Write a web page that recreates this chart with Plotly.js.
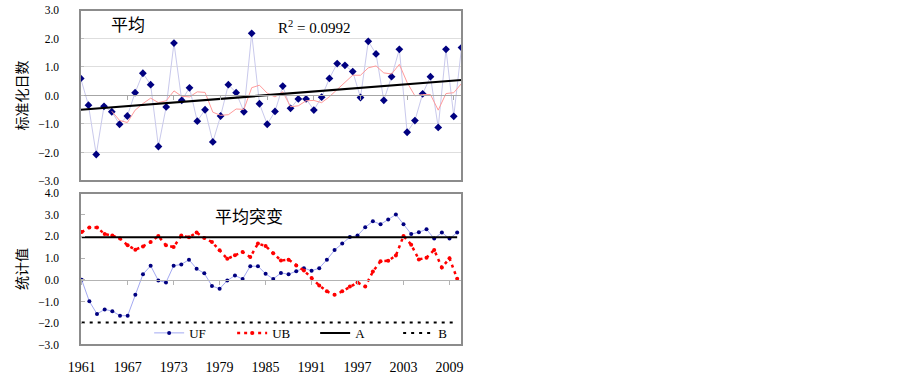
<!DOCTYPE html>
<html>
<head>
<meta charset="utf-8">
<script src="https://cdn.plot.ly/plotly-3.0.1.min.js"></script>
<style>html,body{margin:0;padding:0;background:#fff;}#chart{width:902px;height:378px;}</style>
</head>
<body>
<div id="chart"></div>
<script>
// ---- data ----
const years = [1961,1962,1963,1964,1965,1966,1967,1968,1969,1970,
  1971,1972,1973,1974,1975,1976,1977,1978,1979,1980,
  1981,1982,1983,1984,1985,1986,1987,1988,1989,1990,
  1991,1992,1993,1994,1995,1996,1997,1998,1999,2000,
  2001,2002,2003,2004,2005,2006,2007,2008,2009,2010];
const stdDays = [0.60,-0.34,-2.07,-0.38,-0.57,-1.01,-0.72,0.10,0.78,0.38,
  -1.79,-0.40,1.84,-0.17,0.27,-0.90,-0.50,-1.63,-0.72,0.38,
  0.10,-0.57,2.18,-0.29,-1.01,-0.56,0.33,-0.45,-0.12,-0.12,
  -0.51,-0.06,0.60,1.12,1.06,0.84,-0.07,1.90,1.46,-0.17,
  0.66,1.62,-1.29,-0.88,0.06,0.66,-1.12,1.62,-0.73,1.68];
const UF = [0.00,-0.99,-1.57,-1.36,-1.44,-1.65,-1.65,-0.68,0.26,0.65,
  -0.03,-0.12,0.65,0.71,0.93,0.51,0.30,-0.28,-0.41,-0.03,
  0.20,0.04,0.63,0.63,0.28,0.04,0.32,0.26,0.40,0.54,
  0.42,0.54,0.93,1.37,1.67,1.97,2.04,2.42,2.70,2.56,
  2.78,3.01,2.56,2.11,2.19,2.33,1.90,2.18,1.90,2.18];
const UB = [2.20,2.41,2.41,2.11,2.04,1.90,1.59,1.39,1.54,1.74,
  2.02,1.59,1.51,2.04,1.96,2.18,1.93,1.74,1.36,0.97,
  1.13,1.28,1.05,1.67,1.56,1.22,0.89,0.93,0.66,0.43,
  0.09,-0.26,-0.53,-0.69,-0.53,-0.31,-0.12,-0.31,0.38,0.86,
  0.88,1.12,2.02,1.62,0.94,1.02,1.38,0.57,0.99,0.05];
const critA = years.map(() => 1.96);
const critB = years.map(() => -1.96);
const tickYears = [1961,1967,1973,1979,1985,1991,1997,2003,2009];
const r2Text = 'R<sup>2</sup> = 0.0992';
const titleTop = '平均';
const titleBottom = '平均突变';

// ---- derived: 5-year moving average and linear trend ----
const movAvgX = [], movAvgY = [];
for (let i = 4; i < stdDays.length; i++) {
  let s = 0; for (let k = i - 4; k <= i; k++) s += stdDays[k];
  movAvgX.push(years[i]); movAvgY.push(s / 5);
}
const n = years.length;
const mx = years.reduce((a, b) => a + b, 0) / n;
const my = stdDays.reduce((a, b) => a + b, 0) / n;
let sxy = 0, sxx = 0;
for (let i = 0; i < n; i++) { sxy += (years[i] - mx) * (stdDays[i] - my); sxx += (years[i] - mx) ** 2; }
const slope = sxy / sxx, icpt = my - slope * mx;
const trendX = [years[0], years[n - 1]];
const trendY = trendX.map(x => icpt + slope * x);

const serif = 'Liberation Serif, Times New Roman, serif';
const cjk = 'Noto Sans CJK SC, sans-serif';

const traces = [
  {x: years, y: stdDays, xaxis: 'x', yaxis: 'y', mode: 'lines+markers', showlegend: false,
   line: {color: '#c9c9ec', width: 1}, marker: {color: '#000080', size: 6, symbol: 'diamond'}},
  {x: movAvgX, y: movAvgY, xaxis: 'x', yaxis: 'y', mode: 'lines', showlegend: false,
   line: {color: '#ff9a9a', width: 1}},
  {x: trendX, y: trendY, xaxis: 'x3', yaxis: 'y', mode: 'lines', showlegend: false,
   line: {color: '#000000', width: 2.2}},
  {x: years, y: UF, xaxis: 'x2', yaxis: 'y2', mode: 'lines+markers', name: 'UF',
   line: {color: '#a3a9f2', width: 1}, marker: {color: '#000080', size: 4}},
  {x: years, y: UB, xaxis: 'x2', yaxis: 'y2', mode: 'lines+markers', name: 'UB',
   line: {color: '#ff0000', width: 2.5, dash: '3px,4px'}, marker: {color: '#ff0000', size: 4}},
  {x: years, y: critA, xaxis: 'x4', yaxis: 'y2', mode: 'lines', name: 'A',
   line: {color: '#000000', width: 2}},
  {x: years, y: critB, xaxis: 'x4', yaxis: 'y2', mode: 'lines', name: 'B',
   line: {color: '#000000', width: 2, dash: '3px,5px'}}
];

const topRange = [1960.91, 2010.06];
const botRange = [1960.78, 2010.63];
const tickFont = {family: serif, size: 14, color: '#000'};
const yTickFont = {family: serif, size: 11.5, color: '#000'};

const layout = {
  width: 902, height: 378,
  margin: {l: 80, r: 440, t: 10, b: 33, pad: 0},
  paper_bgcolor: '#ffffff', plot_bgcolor: '#ffffff',
  showlegend: true,
  legend: {orientation: 'h', x: 0.181, xanchor: 'left', y: 0.036, yanchor: 'middle',
    font: {family: serif, size: 13, color: '#000'}, bgcolor: 'rgba(0,0,0,0)',
    entrywidth: 38, entrywidthmode: 'pixels', traceorder: 'normal'},
  xaxis: {domain: [0, 1], anchor: 'y', range: topRange, showticklabels: false, ticks: '',
    showgrid: false, zeroline: false, showline: false},
  yaxis: {domain: [0.4896, 1], anchor: 'x', range: [-3, 3], dtick: 1, tick0: 0, tickformat: '.1f',
    tickfont: yTickFont, ticks: 'inside', ticklen: 4, tickcolor: '#bbbbbb', ticklabelstandoff: 20,
    showgrid: true, gridcolor: '#dedede', gridwidth: 1, zeroline: false, showline: false,
    title: {text: '标准化日数', font: {family: cjk, size: 14, color: '#000'}, standoff: 7}},
  xaxis3: {overlaying: 'x', anchor: 'free', position: 0.7448, range: topRange,
    tickvals: tickYears, ticks: 'outside', ticklen: 4, tickcolor: '#a6a6a6',
    showline: true, linecolor: '#a6a6a6', linewidth: 1, showticklabels: false,
    showgrid: false, zeroline: false},
  xaxis2: {domain: [0, 1], anchor: 'y2', range: botRange, tickvals: tickYears, ticks: '',
    tickfont: tickFont, ticklabelstandoff: 12, showgrid: false, zeroline: false, showline: false},
  yaxis2: {domain: [0, 0.4537], anchor: 'x2', range: [-3, 4], dtick: 1, tick0: 0, tickformat: '.1f',
    tickfont: yTickFont, ticks: 'inside', ticklen: 5, tickcolor: '#b3b3b3', ticklabelstandoff: 20,
    showgrid: false, zeroline: false, showline: false,
    title: {text: '统计值', font: {family: cjk, size: 14, color: '#000'}, standoff: 7}},
  xaxis4: {overlaying: 'x2', anchor: 'free', position: 0.1944, range: botRange,
    tickvals: tickYears, ticks: 'outside', ticklen: 4, tickcolor: '#b3b3b3',
    showline: true, linecolor: '#b3b3b3', linewidth: 1, showticklabels: false,
    showgrid: false, zeroline: false},
  shapes: [
    {type: 'rect', xref: 'x domain', yref: 'y domain', x0: 0, x1: 1, y0: 0, y1: 1,
     line: {color: '#8c8c8c', width: 2}, layer: 'above'},
    {type: 'rect', xref: 'x2 domain', yref: 'y2 domain', x0: 0, x1: 1, y0: 0, y1: 1,
     line: {color: '#8c8c8c', width: 2}, layer: 'above'}
  ],
  annotations: [
    {text: titleTop, xref: 'paper', yref: 'paper', x: 0.126, y: 0.961, xanchor: 'center', yanchor: 'middle',
     showarrow: false, font: {family: cjk, size: 17, color: '#000'}},
    {text: r2Text, xref: 'paper', yref: 'paper', x: 0.613, y: 0.949, xanchor: 'center', yanchor: 'middle',
     showarrow: false, font: {family: serif, size: 15, color: '#000'}},
    {text: titleBottom, xref: 'paper', yref: 'paper', x: 0.443, y: 0.388, xanchor: 'center', yanchor: 'middle',
     showarrow: false, font: {family: cjk, size: 17, color: '#000'}}
  ]
};

Plotly.newPlot('chart', traces, layout, {displayModeBar: false, staticPlot: true});
</script>
</body>
</html>
